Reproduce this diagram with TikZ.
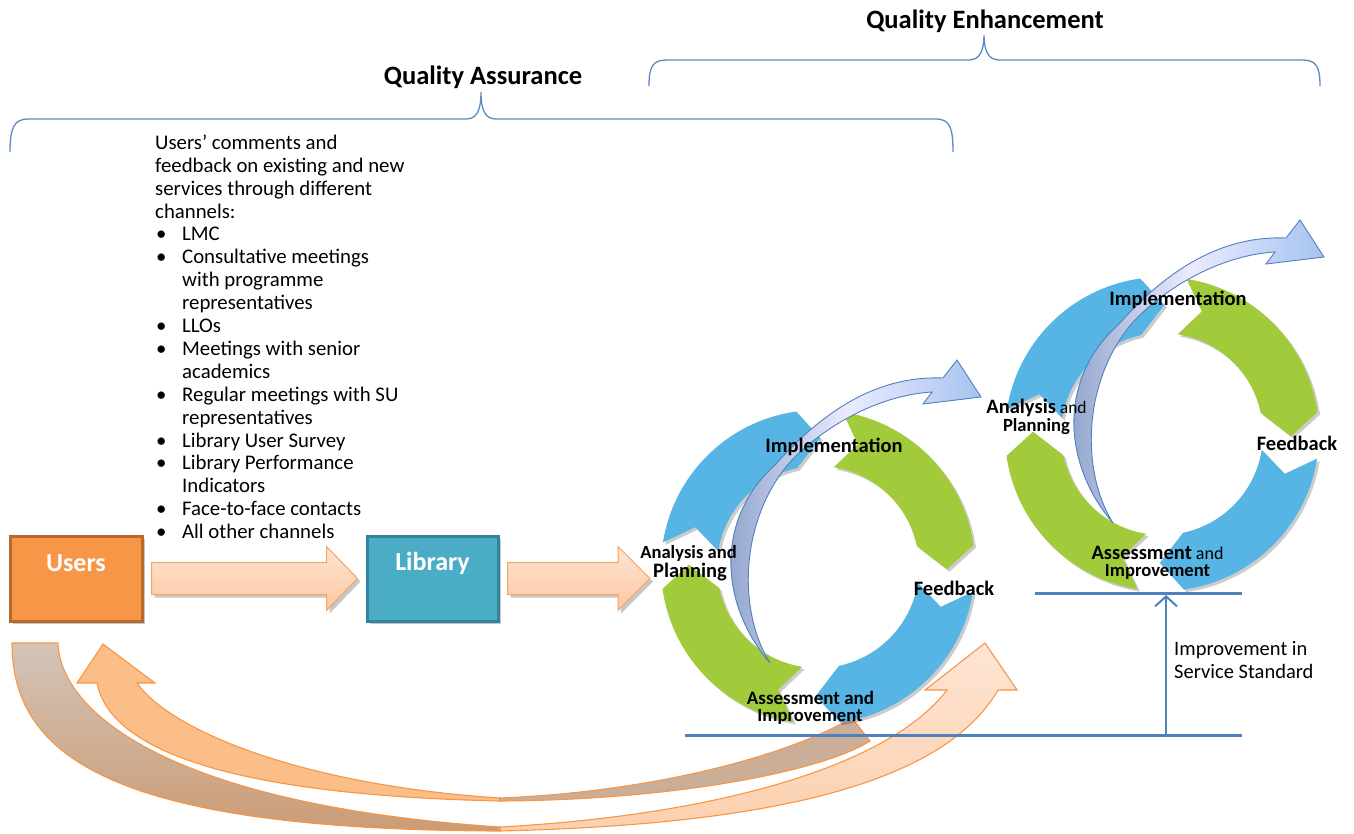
\documentclass[tikz,border=0pt]{standalone}
\usepackage{fontspec}
\setmainfont{Carlito}
\usetikzlibrary{calc,arrows.meta}
\definecolor{ringblue}{HTML}{57B5E5}
\definecolor{ringgreen}{HTML}{A1CB3A}
\definecolor{braceblue}{HTML}{5A8AC6}
\definecolor{lineblue}{HTML}{4F81BD}
\definecolor{userfill}{HTML}{F79646}
\definecolor{userdraw}{HTML}{B8692C}
\definecolor{libfill}{HTML}{4BACC6}
\definecolor{libdraw}{HTML}{31849B}
\definecolor{peachtop}{HTML}{FDE4D2}
\definecolor{peachbot}{HTML}{FBC8A0}
\definecolor{peachline}{HTML}{F6A263}
\definecolor{ribbonline}{HTML}{F79646}
\definecolor{tantop}{HTML}{D3C4B8}
\definecolor{tanbot}{HTML}{CB9C76}
\definecolor{tanflat}{HTML}{CBAE98}
\definecolor{peachsat}{HTML}{FBBE88}
\definecolor{peachlt}{HTML}{FDE5D4}
\definecolor{peachmd}{HTML}{FCD0AE}
\definecolor{cresdark}{HTML}{8A9FC8}
\definecolor{creslight}{HTML}{A6C3F0}
\newcommand\bul{\makebox[27pt][l]{\hspace{1pt}\textbullet}}
\newcommand\cont{\hspace*{27pt}}
\newcommand\ringseg[3]{%
  \path[fill=#1, segshadow] (#2:157) -- (#2-9:129) -- (#2:101)
    arc[start angle=#2, end angle=#3+4, radius=101]
    -- (#3-9:129) -- (#3:157)
    arc[start angle=#3, end angle=#2, radius=157] -- cycle;}
\newcommand\cycle{%
  \ringseg{ringblue}{171}{98}
  \ringseg{ringgreen}{81}{8}
  \ringseg{ringblue}{-9}{-82}
  \ringseg{ringgreen}{-99}{-172}}
\newcommand\crescentpath{%
  \path[crescent] (770,663) .. controls (720,605) and (714,520) .. (775,465)
    .. controls (815,420) and (870,375) .. (943,378) -- (957,360) -- (981,397)
    -- (923,404) -- (932,392) .. controls (880,395) and (825,425) .. (790,462)
    .. controls (740,520) and (737,610) .. (770,663) -- cycle;}
\begin{document}
\begin{tikzpicture}[x=1pt,y=-1pt,
  brace/.style={draw=braceblue, line width=1.3pt},
  title/.style={font=\bfseries\fontsize{26.5}{30}\selectfont, inner sep=0},
  listtext/.style={font=\fontsize{20.8}{22.9}\selectfont, align=left, inner sep=0, anchor=north west},
  boxshadow/.style={preaction={fill=black, opacity=0.22, transform canvas={xshift=3pt,yshift=-3pt}}},
  segshadow/.style={preaction={fill=black, opacity=0.2, transform canvas={xshift=2.5pt,yshift=-2.5pt}}},
  userbox/.style={fill=userfill, draw=userdraw, line width=3pt, minimum width=132pt, minimum height=85pt, inner sep=0, boxshadow},
  libbox/.style={fill=libfill, draw=libdraw, line width=3pt, minimum width=131pt, minimum height=85pt, inner sep=0, boxshadow},
  boxtext/.style={text=white, font=\bfseries\fontsize{26}{30}\selectfont, inner sep=0},
  blockarrow/.style={draw=peachline, line width=1pt, top color=peachtop, bottom color=peachbot, boxshadow},
  ribbon/.style={draw=ribbonline, line width=1.1pt},
  crescent/.style={draw=lineblue, line width=0.9pt, left color=cresdark, right color=creslight, middle color=white!92!blue},
  lbl/.style={font=\bfseries\fontsize{20.5}{22}\selectfont, inner sep=0},
  lblmid/.style={font=\bfseries\fontsize{19}{21}\selectfont, inner sep=0},
  lblsm/.style={font=\bfseries\fontsize{18.6}{20}\selectfont, inner sep=0},
  baseln/.style={draw=lineblue, line width=3pt},
  plain/.style={font=\fontsize{20.5}{23}\selectfont, inner sep=0}
]
\useasboundingbox (0,0) rectangle (1354,833);

% braces and titles
\draw[brace] (10,152) .. controls (10,128) and (14,119) .. (28,119) -- (466,119)
  .. controls (477,119) and (481,110) .. (481,92) .. controls (481,110) and (485,119) .. (496,119)
  -- (936,119) .. controls (950,119) and (953,128) .. (953,152);
\draw[brace] (649,86) .. controls (649,66) and (653,60) .. (667,60) -- (969,60)
  .. controls (980,60) and (984,50) .. (984,35) .. controls (984,50) and (988,60) .. (999,60)
  -- (1302,60) .. controls (1316,60) and (1320,66) .. (1320,86);
\node[title] (qa) at (483,77) {Quality Assurance};
\node[title] (qe) at (985,21) {Quality Enhancement};

% channel list
\node[listtext] (channels) at (155,134.5) {Users’ comments and\\
feedback on existing and new\\
services through different\\
channels:\\
\bul LMC\\
\bul Consultative meetings\\
\cont with programme\\
\cont representatives\\
\bul LLOs\\
\bul Meetings with senior\\
\cont academics\\
\bul Regular meetings with SU\\
\cont representatives\\
\bul Library User Survey\\
\bul Library Performance\\
\cont Indicators\\
\bul Face-to-face contacts\\
\bul All other channels};

% boxes
\node[userbox] (users) at (76,578.5) {};
\node[boxtext] (userslbl) at (76,563) {Users};
\node[libbox] (library) at (432.5,578.5) {};
\node[boxtext] (librarylbl) at (432.5,563) {Library};
\coordinate (cyc1in) at (650,579);

\path[blockarrow] let \p1=($(users.east)+(8,0)$), \p2=($(library.west)+(-8,0)$) in
  (\x1,{\y1+16pt}) -- ({\x2-31pt},{\y1+16pt}) -- ({\x2-31pt},{\y1+32pt}) -- (\x2,\y1)
  -- ({\x2-31pt},{\y1-32pt}) -- ({\x2-31pt},{\y1-16pt}) -- (\x1,{\y1-16pt}) -- cycle;
\path[blockarrow] let \p1=($(library.east)+(8,0)$), \p2=(cyc1in) in
  (\x1,{\y1+16pt}) -- ({\x2-32pt},{\y1+16pt}) -- ({\x2-32pt},{\y1+32pt}) -- (\x2,\y1)
  -- ({\x2-32pt},{\y1-32pt}) -- ({\x2-32pt},{\y1-16pt}) -- (\x1,{\y1-16pt}) -- cycle;

% bottom ribbons
% outer ribbon: back part
\path[ribbon, top color=tantop, bottom color=tanbot]
  (12,643) -- (58,643) .. controls (60,712) and (170,805) .. (500,827)
  -- (500,831) .. controls (120,830) and (12,760) .. (12,643) -- cycle;
% outer ribbon: front part with head
\path[ribbon, top color=peachlt, bottom color=peachmd]
  (500,827) .. controls (720,815) and (890,765) .. (947,690) -- (925,690) -- (985,643)
  -- (1017,690) -- (998,690) .. controls (940,790) and (750,825) .. (500,831) -- cycle;
% inner ribbon: front part with head
\path[ribbon, fill=peachsat]
  (103,644) -- (155,683) -- (137,683) .. controls (170,730) and (300,785) .. (500,798)
  -- (500,801) .. controls (230,795) and (110,750) .. (97,683) -- (77,683) -- cycle;
% inner ribbon: back part
\path[ribbon, fill=tanflat]
  (500,798) .. controls (650,792) and (785,757) .. (852,718) -- (870,741)
  .. controls (825,770) and (680,800) .. (500,801) -- cycle;

% service standard lines
\coordinate (base1l) at (685,735);
\coordinate (base1r) at (1242,735);
\coordinate (base2l) at (1035,593);
\coordinate (base2r) at (1242,593);
\coordinate (arrfoot) at (1166,735);
\coordinate (arrtip) at (1166,595);
\draw[baseln] (base1l) -- (base1r);
\draw[baseln] (base2l) -- (base2r);
\draw[draw=lineblue, line width=2pt, -{Straight Barb[length=10pt,width=22pt,line width=2pt]}] (arrfoot) -- (arrtip);
\node[plain, anchor=west, align=left] (improvement) at (1174,660.5) {Improvement in\\Service Standard};

% cycle 1
\begin{scope}[shift={(818,567)}, yscale=-1]
  \cycle
\end{scope}
\crescentpath
% cycle 2
\begin{scope}[shift={(1162,434)}, yscale=-1]
  \cycle
\end{scope}
\begin{scope}[shift={(343,-140)}]
  \crescentpath
\end{scope}

% cycle labels
\node[lbl] (c1impl) at (834,447) {Implementation};
\node[lblsm] (c1anal) at (688.5,553) {Analysis and};
\node[lbl] (c1plan) at (690,572) {Planning};
\node[lbl] (c1feed) at (954,588) {Feedback};
\node[lblmid] (c1ass) at (810.5,698) {Assessment and};
\node[lblsm] (c1imp) at (810,717) {Improvement};

\node[lbl] (c2impl) at (1178,300) {Implementation};
\node[inner sep=0] (c2anal) at (1036.5,408) {{\bfseries\fontsize{20.5}{22}\selectfont Analysis}\fontsize{17.5}{20}\selectfont{} and};
\node[lblsm] (c2plan) at (1036.5,427) {Planning};
\node[lbl] (c2feed) at (1297,443) {Feedback};
\node[inner sep=0] (c2ass) at (1157.5,553) {{\bfseries\fontsize{20.5}{22}\selectfont Assessment}\fontsize{18}{20}\selectfont{} and};
\node[lblsm] (c2imp) at (1157.5,572) {Improvement};
\end{tikzpicture}
\end{document}
